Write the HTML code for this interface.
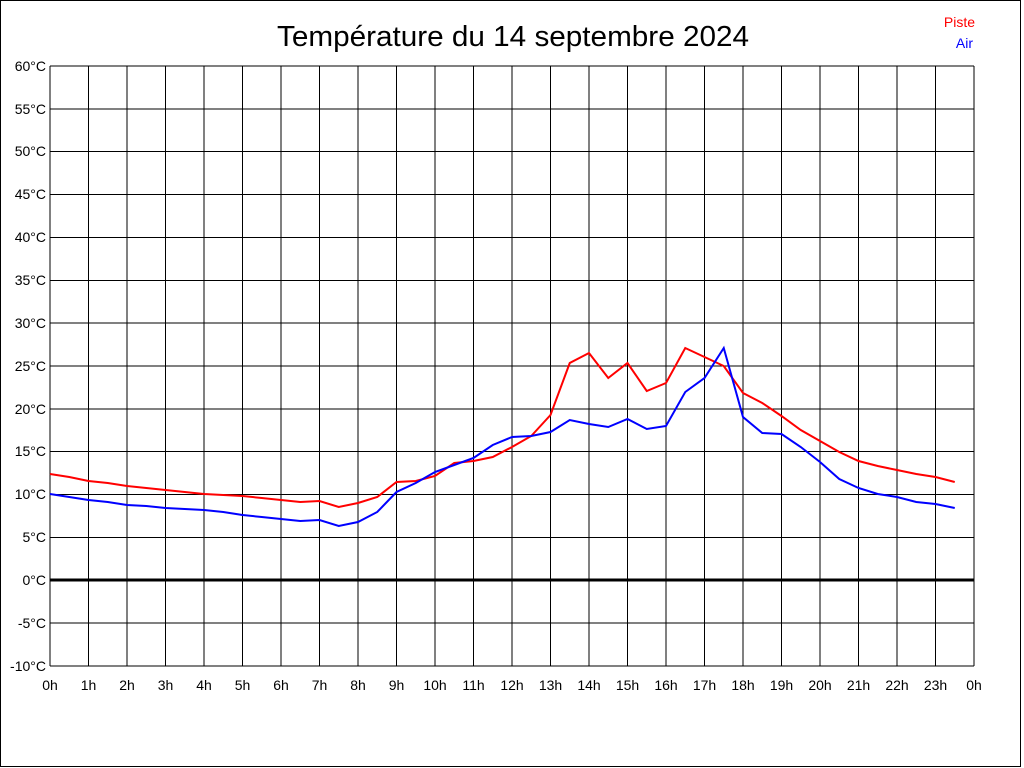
<!DOCTYPE html>
<html><head><meta charset="utf-8"><style>
html,body{margin:0;padding:0;background:#fff;}
svg{display:block;font-family:"Liberation Sans",Arial,sans-serif;}
</style></head><body>
<svg width="1024" height="768" viewBox="0 0 1024 768" xmlns="http://www.w3.org/2000/svg">
<rect x="0" y="0" width="1024" height="768" fill="#fff"/>
<rect x="0.5" y="0.5" width="1020" height="766" fill="none" stroke="#000" stroke-width="1"/>
<text x="513" y="46" font-size="29" text-anchor="middle" fill="#000" textLength="472" lengthAdjust="spacingAndGlyphs">Température du 14 septembre 2024</text>
<text x="975" y="27" font-size="14" text-anchor="end" fill="#ff0000">Piste</text>
<text x="973" y="48" font-size="14" text-anchor="end" fill="#0000ff">Air</text>
<g stroke="#000" stroke-width="1" shape-rendering="crispEdges">
<path d="M50 66V666M88.5 66V666M127 66V666M165.5 66V666M204 66V666M242.5 66V666M281 66V666M319.5 66V666M358 66V666M396.5 66V666M435 66V666M473.5 66V666M512 66V666M550.5 66V666M589 66V666M627.5 66V666M666 66V666M704.5 66V666M743 66V666M781.5 66V666M820 66V666M858.5 66V666M897 66V666M935.5 66V666M974 66V666"/>
<path d="M50 66H974M50 108.9H974M50 151.7H974M50 194.6H974M50 237.4H974M50 280.3H974M50 323.1H974M50 366H974M50 408.9H974M50 451.7H974M50 494.6H974M50 537.4H974M50 622.9H974M50 666H974"/>
</g>
<path d="M50 580H974" stroke="#000" stroke-width="3"/>
<g font-size="14" fill="#000" text-anchor="end">
<text x="46" y="71">60°C</text><text x="46" y="114">55°C</text><text x="46" y="156">50°C</text><text x="46" y="199">45°C</text><text x="46" y="242">40°C</text><text x="46" y="285">35°C</text><text x="46" y="328">30°C</text><text x="46" y="371">25°C</text><text x="46" y="414">20°C</text><text x="46" y="456">15°C</text><text x="46" y="499">10°C</text><text x="46" y="542">5°C</text><text x="46" y="585">0°C</text><text x="46" y="628">-5°C</text><text x="46" y="671">-10°C</text>
</g>
<g font-size="14" fill="#000" text-anchor="middle">
<text x="50" y="690">0h</text><text x="88.5" y="690">1h</text><text x="127" y="690">2h</text><text x="165.5" y="690">3h</text><text x="204" y="690">4h</text><text x="242.5" y="690">5h</text><text x="281" y="690">6h</text><text x="319.5" y="690">7h</text><text x="358" y="690">8h</text><text x="396.5" y="690">9h</text><text x="435" y="690">10h</text><text x="473.5" y="690">11h</text><text x="512" y="690">12h</text><text x="550.5" y="690">13h</text><text x="589" y="690">14h</text><text x="627.5" y="690">15h</text><text x="666" y="690">16h</text><text x="704.5" y="690">17h</text><text x="743" y="690">18h</text><text x="781.5" y="690">19h</text><text x="820" y="690">20h</text><text x="858.5" y="690">21h</text><text x="897" y="690">22h</text><text x="935.5" y="690">23h</text><text x="974" y="690">0h</text>
</g>
<polyline fill="none" stroke="#ff0000" stroke-width="2" points="50,474 69.25,477 88.5,481 107.75,483 127,486 146.25,488 165.5,490 184.75,492 204,494 223.25,495 242.5,496 261.75,498 281,500 300.25,502 319.5,501 338.75,507 358,503 377.25,497 396.5,482 415.75,481 435,476 454.25,463 473.5,461 492.75,457 512,447 531.25,436 550.5,415 569.75,363 589,353 608.25,378 627.5,363 646.75,391 666,383 685.25,348 704.5,357 723.75,366 743,393 762.25,403 781.5,416 800.75,430 820,441 839.25,452 858.5,461 877.75,466 897,470 916.25,474 935.5,477 954.75,482"/>
<polyline fill="none" stroke="#0000ff" stroke-width="2" points="50,494 69.25,497 88.5,500 107.75,502 127,505 146.25,506 165.5,508 184.75,509 204,510 223.25,512 242.5,515 261.75,517 281,519 300.25,521 319.5,520 338.75,526 358,522 377.25,512 396.5,492 415.75,483 435,472 454.25,465 473.5,458 492.75,445 512,437 531.25,436 550.5,432 569.75,420 589,424 608.25,427 627.5,419 646.75,429 666,426 685.25,392 704.5,378 723.75,348 743,417 762.25,433 781.5,434 800.75,447 820,462 839.25,479 858.5,488 877.75,494 897,497 916.25,502 935.5,504 954.75,508"/>
</svg>
</body></html>
